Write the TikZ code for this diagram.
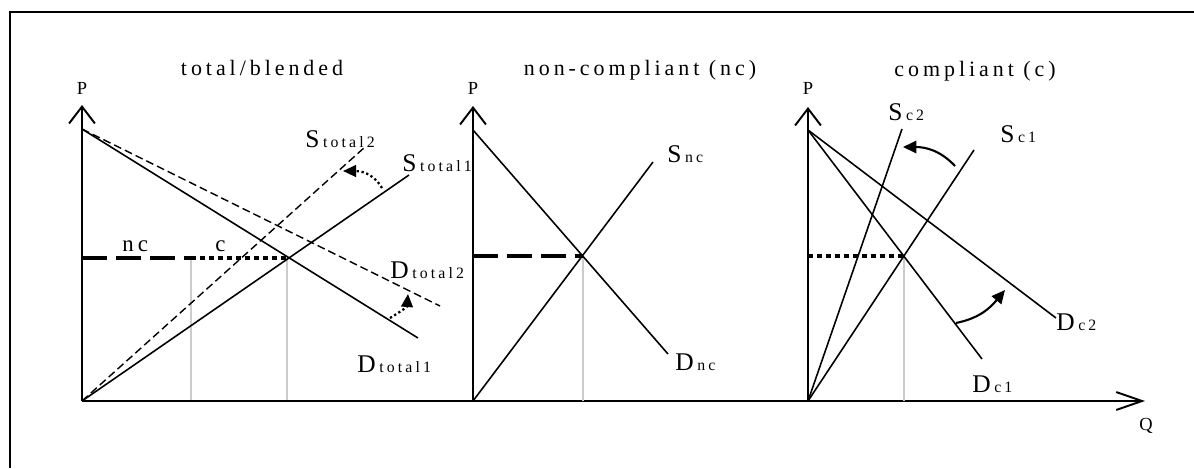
\documentclass[tikz,border=0pt]{standalone}
\usepackage{fontspec}
\setmainfont{Liberation Serif}
\usetikzlibrary{arrows.meta}
\newcommand\subtxt[1]{{\fontsize{9}{10}\selectfont\addfontfeature{LetterSpace=20}#1}}
\newcommand\crvlbl[2]{#1\hspace{2pt}\subtxt{#2}}
\begin{document}
\begin{tikzpicture}[x=0.02cm,y=-0.02cm,
  frame/.style={line width=1.1pt},
  paxis/.style={line width=1.1pt,-{Straight Barb[length=9.6pt,width=14.7pt]}},
  qaxis/.style={line width=1.1pt,-{Straight Barb[length=14.7pt,width=10.2pt]}},
  curve/.style={line width=0.9pt},
  shifted/.style={line width=0.8pt,dash pattern=on 4.5pt off 2.3pt},
  ncline/.style={line width=2pt,dash pattern=on 14.2pt off 5.1pt},
  cline/.style={line width=2.4pt,dash pattern=on 3pt off 2.1pt},
  guide/.style={gray!40,line width=0.6pt},
  shiftdot/.style={line width=1.3pt,dash pattern=on 1.3pt off 1.5pt,-{Triangle[length=7.4pt,width=6.6pt]}},
  shiftarrow/.style={line width=1.2pt,-{Triangle[length=7.6pt,width=7pt]}},
  lbl/.style={anchor=base west,inner sep=0pt,font=\fontsize{14.5}{17}\selectfont},
  ttl/.style={anchor=base,inner sep=0pt,font=\fontsize{12.5}{15}\selectfont\addfontfeature{LetterSpace=18}},
  axlbl/.style={anchor=base,inner sep=0pt,font=\fontsize{10.5}{12}\selectfont}
]
\useasboundingbox (0,0) rectangle (1194,468);
% frame
\coordinate (fb) at (10,468);
\coordinate (fc) at (10,12);
\coordinate (fr) at (1194,12);
\draw[frame] (fb) -- (fc) -- (fr);

% ---------- panel 1: total/blended ----------
\coordinate (O1) at (82,401);
\coordinate (T1) at (82,105);
\coordinate (Dt1) at (82,129);
\coordinate (D1e) at (418,338);
\coordinate (D2e) at (440,306);
\coordinate (S1e) at (409,175);
\coordinate (S2e) at (365,147);
\coordinate (E1) at (287,258);
\coordinate (M1) at (191,258);
\coordinate (H1) at (82,258);
\coordinate (F1) at (191,401);
\coordinate (G1) at (287,401);
\coordinate (Qt) at (1145,401);

\draw[guide] (M1) -- (F1);
\draw[guide] (E1) -- (G1);
\draw[paxis] (O1) -- (T1);
\draw[qaxis] (O1) -- (Qt);
\draw[curve] (Dt1) -- (D1e);
\draw[shifted] (Dt1) -- (D2e);
\draw[curve] (O1) -- (S1e);
\draw[shifted] (O1) -- (S2e);
\draw[ncline] (H1) -- (M1);
\draw[cline] (M1) -- (E1);

\coordinate (aS1) at (382,188);
\coordinate (aS2) at (343,171);
\draw[shiftdot] (aS1) .. controls (376,177) and (365,171) .. (aS2);
\coordinate (aD1) at (390,318);
\coordinate (aD2) at (408,294);
\draw[shiftdot] (aD1) .. controls (400,312) and (407,307) .. (aD2);

\node[ttl] (t1) at (262,75) {total/blended};
\node[axlbl] (p1) at (82,94) {P};
\node[axlbl] (q) at (1146,430) {Q};
\node[lbl] (lS2) at (305,147) {\crvlbl{S}{total2}};
\node[lbl] (lS1) at (402,171) {\crvlbl{S}{total1}};
\node[lbl] (lD2) at (390,278) {\crvlbl{D}{total2}};
\node[lbl] (lD1) at (357,372) {\crvlbl{D}{total1}};
\node[lbl,font=\fontsize{13}{15}\selectfont\addfontfeature{LetterSpace=18}] (lnc) at (122,251) {nc};
\node[lbl,font=\fontsize{13}{15}\selectfont] (lc) at (215,251) {c};

% ---------- panel 2: non-compliant ----------
\coordinate (O2) at (473,401);
\coordinate (T2) at (473,106);
\coordinate (Dt2) at (473,130);
\coordinate (Dnce) at (668,354);
\coordinate (Snce) at (653,162);
\coordinate (E2) at (583,256);
\coordinate (H2) at (473,256);
\coordinate (G2) at (583,401);

\draw[guide] (E2) -- (G2);
\draw[paxis] (O2) -- (T2);
\draw[curve] (Dt2) -- (Dnce);
\draw[curve] (O2) -- (Snce);
\draw[ncline] (H2) -- (E2);

\node[ttl] (t2) at (640,75) {non-compliant (nc)};
\node[axlbl] (p2) at (473,94) {P};
\node[lbl] (lSnc) at (667,162) {\crvlbl{S}{nc}};
\node[lbl] (lDnc) at (675,370) {\crvlbl{D}{nc}};

% ---------- panel 3: compliant ----------
\coordinate (O3) at (808,401);
\coordinate (T3) at (808,107);
\coordinate (Dt3) at (808,130);
\coordinate (Dc1e) at (982,359);
\coordinate (Dc2e) at (1056,318);
\coordinate (Sc1e) at (974,150);
\coordinate (Sc2e) at (902,129);
\coordinate (E3) at (904,256);
\coordinate (H3) at (808,256);
\coordinate (G3) at (904,401);

\draw[guide] (E3) -- (G3);
\draw[paxis] (O3) -- (T3);
\draw[curve] (Dt3) -- (Dc1e);
\draw[curve] (Dt3) -- (Dc2e);
\draw[curve] (O3) -- (Sc1e);
\draw[curve] (O3) -- (Sc2e);
\draw[cline] (H3) -- (E3);

\coordinate (aSc1) at (955,166);
\coordinate (aSc2) at (903,147);
\draw[shiftarrow] (aSc1) .. controls (940,150) and (925,147) .. (aSc2);
\coordinate (aDc1) at (956,323);
\coordinate (aDc2) at (1005,290);
\draw[shiftarrow] (aDc1) .. controls (980,318) and (990,308) .. (aDc2);

\node[ttl] (t3) at (975,76) {compliant (c)};
\node[axlbl] (p3) at (808,94) {P};
\node[lbl] (lSc2) at (888,120) {\crvlbl{S}{c2}};
\node[lbl] (lSc1) at (1000,142) {\crvlbl{S}{c1}};
\node[lbl] (lDc2) at (1056,330) {\crvlbl{D}{c2}};
\node[lbl] (lDc1) at (972,392) {\crvlbl{D}{c1}};
\end{tikzpicture}
\end{document}
